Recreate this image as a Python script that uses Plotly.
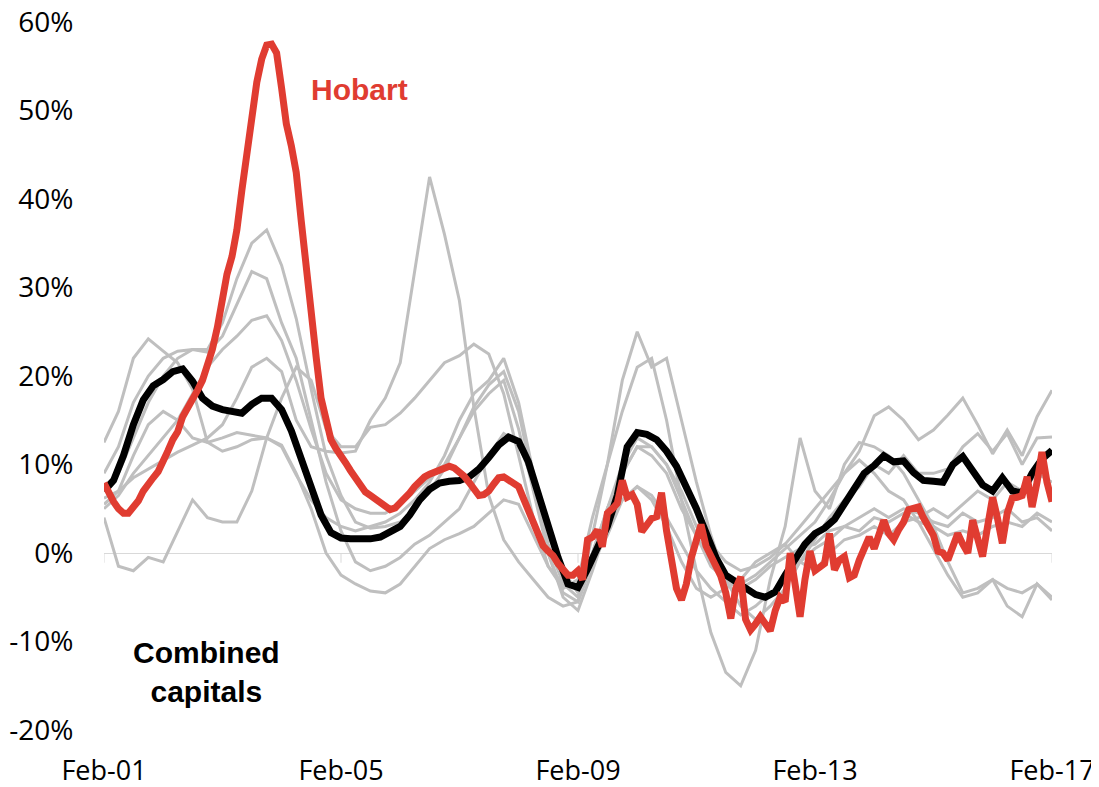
import pandas as pd
import plotly.graph_objects as go

# ---------------- data (annual % change) ----------------
months = pd.date_range("2001-02-01", periods=193, freq="MS")      # monthly
bimonths = pd.date_range("2001-02-01", periods=97, freq="2MS")    # every 2 months
quarters = pd.date_range("2001-02-01", periods=65, freq="3MS")    # quarterly

tick_dates = ["2001-02-01", "2005-02-01", "2009-02-01", "2013-02-01", "2017-02-01"]
tick_labels = ["Feb-01", "Feb-05", "Feb-09", "Feb-13", "Feb-17"]
y_ticks = [-20, -10, 0, 10, 20, 30, 40, 50, 60]
y_tick_labels = ["-20%", "-10%", "0%", "10%", "20%", "30%", "40%", "50%", "60%"]

combined = [
    7.0, 8.2, 11.0, 14.5, 17.3, 18.9, 19.6, 20.5, 20.8, 19.4,
    17.5, 16.6, 16.2, 16.0, 15.8, 16.8, 17.5, 17.5, 16.2, 13.8,
    10.5, 7.3, 4.3, 2.3, 1.7, 1.6, 1.6, 1.6, 1.8, 2.4,
    3.0, 4.3, 6.0, 7.2, 7.9, 8.1, 8.2, 8.6, 9.5, 10.8,
    12.2, 13.1, 12.6, 10.3, 6.5, 2.9, -0.5, -3.5, -3.9, -1.8,
    0.8, 3.0, 6.5, 12.0, 13.6, 13.4, 12.8, 11.5, 9.8, 7.5,
    5.0, 2.3, -0.5, -2.5, -3.3, -4.0, -4.7, -5.0, -4.4, -2.5,
    -0.8, 1.0, 2.2, 2.8, 3.8, 5.5, 7.0, 9.0, 9.9, 11.0,
    10.3, 10.4, 9.1, 8.2, 8.1, 8.0, 10.0, 10.9, 9.3, 7.7,
    7.0, 8.5, 7.0, 6.8, 9.0, 10.6, 11.6,
]

hobart = [
    7.9, 6.8, 5.8, 5.0, 4.5, 4.5, 5.2, 5.9, 7.0, 7.9, 8.5, 9.2,
    10.2, 11.5, 12.8, 13.7, 15.4, 16.3, 17.3, 18.4, 19.5, 21.0, 23.0, 25.5,
    29.0, 31.5, 33.5, 36.5, 41.0, 45.5, 50.0, 53.2, 55.8, 57.4, 57.5, 56.5,
    52.5, 48.5, 46.0, 43.0, 37.5, 32.0, 26.5, 22.1, 17.5, 15.0, 12.8, 11.8,
    10.8, 10.2, 9.3, 8.5, 7.5, 6.9, 6.5, 6.1, 5.7, 5.3, 4.9, 5.1,
    5.6, 6.2, 6.8, 7.5, 8.2, 8.6, 8.9, 9.1, 9.3, 9.5, 9.8, 9.6,
    9.2, 8.7, 8.0, 7.2, 6.5, 6.6, 7.0, 7.8, 8.5, 8.6, 8.3, 7.9,
    7.5, 6.2, 4.8, 3.2, 1.8, 0.8, 0.2, -0.3, -1.2, -1.8, -2.5, -2.5,
    -2.0, -3.0, 1.5, 1.8, 2.6, 0.7, 4.5, 5.0, 5.6, 8.2, 6.3, 6.6,
    5.5, 2.4, 3.2, 3.9, 4.1, 6.8, 2.5, -1.0, -4.0, -5.3, -3.5, -0.5,
    1.8, 3.2, 0.8, -0.3, -1.5, -2.6, -4.5, -7.4, -4.0, -2.7, -7.5, -8.7,
    -8.0, -7.2, -8.0, -8.8, -6.5, -5.0, -5.5, 0.0, -3.5, -7.2, -3.0, 0.2,
    -2.0, -1.6, -1.2, 2.2, -1.9, -0.8, -0.4, -2.8, -2.5, -0.8, 0.5, 1.8,
    0.5, 2.0, 3.7, 2.2, 1.5, 2.6, 3.5, 4.9, 5.0, 5.2, 4.0, 3.0,
    2.0, 0.2, 0.0, -0.8, 0.8, 2.2, 1.0, 0.0, 3.7, 1.5, -0.4, 3.0,
    6.3, 4.0, 1.1, 4.5, 6.2, 6.3, 6.5, 8.6, 5.2, 8.0, 11.4, 8.0, 5.8,
]

sydney = [
    12.5, 16, 22, 24.2, 22.8, 21.5, 18.5, 12.5, 11.5, 12,
    12.8, 13, 12.2, 9, 5, 0, -2.5, -3.5, -4.3, -4.5,
    -3.5, -1.5, 0.5, 1.5, 2.2, 3, 4.5, 6, 5.5, 2,
    -1.5, -3.5, -4, 0, 5, 9, 12, 11, 9, 5,
    2, -1, -3, -3.5, -2.5, -1, 0.5, 2, 3.5, 6,
    9, 11.5, 15.5, 16.5, 15, 12.8, 13.9, 15.6, 17.5, 14.5,
    11.2, 13.9, 11, 15.4, 18.4,
]
melbourne = [
    5.5, 7, 11, 14.5, 16, 15, 13, 12.5, 13, 13.6,
    13.3, 13, 12, 8.8, 6, 4, 3, 2.5, 3, 3.5,
    4.5, 6, 8, 11, 15, 18, 19.5, 22, 17, 9,
    1, -3.5, -5, 2, 10, 19.5, 25, 21, 22, 15,
    8, 2, -3, -6, -7.5, -6, -4, -1, 1.5, 4,
    6, 7.5, 10, 9, 11, 9, 9, 9.5, 12, 13.5,
    11.5, 13.5, 10, 13, 13.1,
]
brisbane = [
    9, 12, 17, 20, 22, 22.8, 23, 23, 26, 31,
    35, 36.5, 32.5, 26.5, 18.5, 11, 6.5, 3.5, 2.8, 3,
    3.5, 5, 7, 9.5, 13, 16.5, 19, 20.5, 16, 8,
    0, -5, -6.5, -2, 3, 6, 7.5, 6.5, 4, 1,
    -2, -4, -5.5, -7, -6, -4.5, -3, -1, 0.5, 1.5,
    3, 2.5, 4, 3.5, 4.5, 3.5, 3, 2, 2.5, 2,
    3, 3.5, 3, 4.5, 3.5,
]
adelaide = [
    5, 6.5, 9, 11, 13, 15, 18, 21, 23, 24.5,
    26.3, 26.8, 24, 19.5, 14, 9, 6, 5, 4.5, 4.5,
    5.5, 7, 8.5, 10, 13, 16, 18, 19.5, 14, 7,
    0, -4.5, -5.5, -1, 5, 9, 12, 12, 10, 6,
    2, -1.5, -3, -4, -3, -1.5, -0.5, 0.5, 1, 2.5,
    3, 4, 5, 4, 5, 4.5, 3.5, 3, 4.5, 3.5,
    4, 5, 3.5, 4, 2.5,
]
perth = [
    6.2, 7, 8.5, 9.5, 10.5, 11.4, 12.2, 13, 14.5, 17.5,
    21, 22, 20.5, 15, 12, 11.5, 11.3, 11.5, 15, 17.5,
    21.5, 32, 42.5, 36, 28.5, 16.5, 6.5, 1.5, -1, -3,
    -5, -6, -5.5, -1, 2, 6, 7.5, 6, 3, -1,
    -4, -5, -4, -3, -1, 0, 1, 3, 5, 7,
    9, 10.5, 9, 7, 6, 3.5, 0.5, -2.5, -5, -4.5,
    -3, -4, -4.5, -3.5, -5,
]
darwin = [
    4, -1.5, -2, -0.5, -1, 2.5, 6, 4, 3.5, 3.5,
    7, 13, 17.5, 21, 19.5, 14, 12, 12, 14.2, 14.5,
    15.8, 17.5, 19.5, 21.5, 22.3, 23.6, 22.5, 18, 11, 4,
    -1.5, -4, -3, 4, 10, 16, 21, 22, 15, 6,
    -2, -9, -13.5, -15, -11, -3, 3, 13, 7, 5,
    10, 12.5, 12, 11, 9, 6, 3, -1, -4.5, -4,
    -3, -6, -7.2, -3.5, -5.3,
]
canberra = [
    7.5, 9, 13, 17, 20, 22, 23, 22.7, 24.5, 28,
    31.8, 31, 26, 22, 15, 8, 2.5, -1, -2, -1.5,
    -0.5, 1, 2, 3.5, 5, 8, 11, 13.5, 12.5, 8,
    2, -2, -4.5, 0, 5, 10, 13, 12, 10, 7,
    3, 1, -1, -2, -1.5, -0.5, 1, -1, -2, 0,
    1.5, 2, 3, 2, 3.5, 4, 5, 4, 5.5, 7,
    6, 8, 7, 9, 8,
]
other_capitals = {
    "Sydney": sydney, "Melbourne": melbourne, "Brisbane": brisbane,
    "Adelaide": adelaide, "Perth": perth, "Darwin": darwin, "Canberra": canberra,
}

# ---------------- figure ----------------
GRAY = "#BFBFBF"
RED = "#E03C31"
FONT = "Open Sans, sans-serif"
BOLD = "Liberation Sans, Arial, sans-serif"

fig = go.Figure()
for name, vals in other_capitals.items():
    fig.add_trace(go.Scatter(x=quarters, y=vals, mode="lines", name=name,
                             line=dict(color=GRAY, width=3), hoverinfo="x+y+name"))

# small tick marks on the zero line
tx, ty = [], []
for d in tick_dates:
    tx += [d, d, None]
    ty += [0, -1.1, None]
fig.add_trace(go.Scatter(x=tx, y=ty, mode="lines", line=dict(color="#D9D9D9", width=1),
                         hoverinfo="skip", showlegend=False))

fig.add_trace(go.Scatter(x=bimonths, y=combined, mode="lines", name="Combined capitals",
                         line=dict(color="black", width=7)))
fig.add_trace(go.Scatter(x=months, y=hobart, mode="lines", name="Hobart",
                         line=dict(color=RED, width=7)))

fig.add_annotation(text="<b>Hobart</b>", xref="paper", yref="paper", x=0.27, y=0.904,
                   xanchor="center", yanchor="middle",
                   showarrow=False, font=dict(family=BOLD, size=30, color=RED))
fig.add_annotation(text="<b>Combined<br>capitals</b>", xref="paper", yref="paper",
                   x=0.108, y=0.082, xanchor="center", yanchor="middle",
                   showarrow=False, align="center",
                   font=dict(family=BOLD, size=30, color="black"))

# the page body has an 8px margin, so the figure is drawn 8px in from the top-left
fig.update_layout(
    width=1091, height=779,
    margin=dict(l=96, r=46.5, t=14, b=57),
    paper_bgcolor="white", plot_bgcolor="white",
    showlegend=False,
    font=dict(family=FONT, size=28, color="black"),
)
fig.update_xaxes(
    type="date", range=["2001-02-01", "2017-02-01"], automargin=False,
    tickvals=tick_dates, ticktext=tick_labels, ticklabeloverflow="allow",
    showgrid=False, zeroline=False, showline=False,
    ticks="outside", ticklen=17, tickcolor="rgba(0,0,0,0)",
    tickfont=dict(family=FONT, size=27, color="black"),
)
fig.update_yaxes(
    range=[-20, 60], tickvals=y_ticks, ticktext=y_tick_labels, automargin=False,
    ticklabeloverflow="allow",
    showgrid=False, showline=False,
    zeroline=True, zerolinecolor="#D9D9D9", zerolinewidth=1,
    ticks="outside", ticklen=24, tickcolor="rgba(0,0,0,0)",
    tickfont=dict(family=FONT, size=28, color="black"),
)

fig.write_html("out.html")
